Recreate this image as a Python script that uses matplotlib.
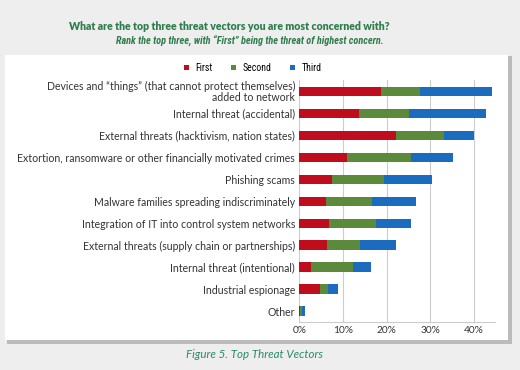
"""Top threat vectors chart.

	Stacked horizontal bars of first / second / third ranked threats.
"""
import numpy as np
import matplotlib
matplotlib.use('Agg')
from matplotlib import pyplot as plt
from matplotlib.patches import Rectangle

categories = [
	'Devices and \u201cthings\u201d (that cannot protect themselves)\nadded to network',
	'Internal threat (accidental)',
	'External threats (hacktivism, nation states)',
	'Extortion, ransomware or other financially motivated crimes',
	'Phishing scams',
	'Malware families spreading indiscriminately',
	'Integration of IT into control system networks',
	'External threats (supply chain or partnerships)',
	'Internal threat (intentional)',
	'Industrial espionage',
	'Other',
]
first = [18.6, 13.7, 22.1, 11.0, 7.6, 6.1, 6.9, 6.3, 2.7, 4.7, 0.1]
second = [9.0, 11.3, 11.1, 14.5, 11.7, 10.5, 10.6, 7.5, 9.7, 1.9, 0.6]
third = [16.5, 17.7, 6.8, 9.7, 11.1, 10.2, 8.0, 8.3, 4.1, 2.3, 0.6]
series_names = ['First', 'Second', 'Third']
xticks = [0, 10, 20, 30, 40]

colors = ['#c00d1e', '#5b8a3a', '#1b6cbf']
green_text = '#2f7d4c'
narrow = ['Roboto Condensed', 'Liberation Sans Narrow', 'Lato', 'DejaVu Sans']

plt.rcParams['font.family'] = ['Lato', 'DejaVu Sans']

fig = plt.figure(figsize=(5.2, 3.7), dpi=100)
fig.patch.set_facecolor('#eeeeee')

# shadow + white panel
fig.patches.append(Rectangle((7 / 520, 1 - 344 / 370), 505 / 520, 288 / 370,
	transform=fig.transFigure, facecolor='#9a9a9a', edgecolor='none', alpha=0.6, zorder=-2))
fig.patches.append(Rectangle((5 / 520, 1 - 340 / 370), 503 / 520, 285 / 370,
	transform=fig.transFigure, facecolor='white', edgecolor='none', zorder=-1))

ax = fig.add_axes([299.3 / 520, 1 - 322 / 370, 195.7 / 520, 241.7 / 370])
ax.set_facecolor('none')
ax.set_zorder(2)

y = np.arange(len(categories))[::-1]
left = np.zeros(len(categories))
for name, vals, c in zip(series_names, [first, second, third], colors):
	ax.barh(y, vals, left=left, height=0.42, color=c, label=name, zorder=3)
	left = left + np.array(vals)

ax.set_xlim(0, 44.8)
ax.set_ylim(-0.5, len(categories) - 0.5)
ax.set_yticks(y)
ax.set_yticklabels(categories, fontsize=7.6, color='#333333', linespacing=1.0)
ax.set_xticks(xticks)
ax.set_xticklabels(['%d%%' % t for t in xticks], fontsize=7.3, color='#333333')
ax.tick_params(axis='both', length=0, pad=3)
ax.grid(axis='x', color='#cccccc', linewidth=0.8, zorder=0)
for s in ['top', 'right', 'left']:
	ax.spines[s].set_visible(False)
ax.spines['bottom'].set_color('#cccccc')

ax.legend(loc='center', bbox_to_anchor=(253 / 520, 1 - 68 / 370), bbox_transform=fig.transFigure,
	ncol=3, frameon=False, prop={'family': narrow, 'size': 7}, handlelength=0.5, handleheight=0.5,
	columnspacing=1.9, handletextpad=0.7, borderpad=0)

fig.text(229 / 520, 1 - 26 / 370, 'What are the top three threat vectors you are most concerned with?',
	ha='center', va='center', fontsize=7.6, fontweight='heavy', color=green_text)
fig.text(250 / 520, 1 - 41 / 370, 'Rank the top three, with \u201cFirst\u201d being the threat of highest concern.',
	ha='center', va='center', fontsize=7.4, fontweight='bold', style='italic', color=green_text,
	family=narrow)
fig.text(255 / 520, 1 - 354 / 370, 'Figure 5. Top Threat Vectors',
	ha='center', va='center', fontsize=8.3, style='italic', color='#2a8a6c')

fig.savefig('out.png', dpi=100, facecolor=fig.get_facecolor())
